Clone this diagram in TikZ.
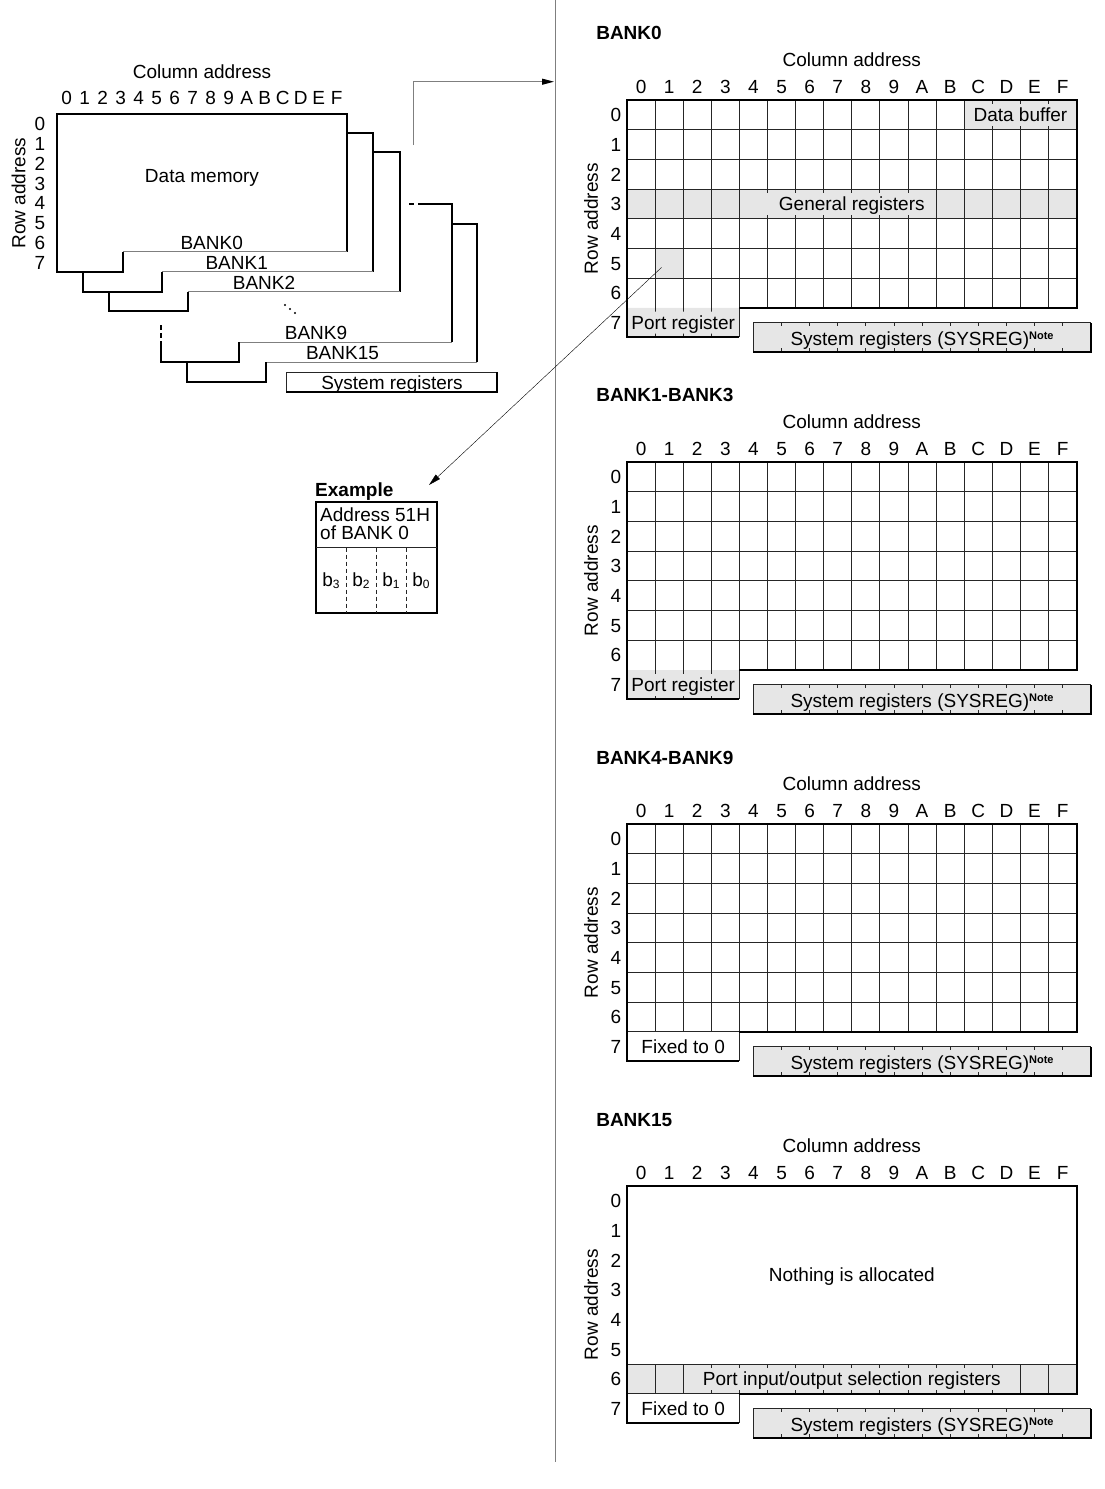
\documentclass[tikz,border=0pt]{standalone}
\usepackage{fontspec}
\setmainfont{Liberation Sans}
\usetikzlibrary{arrows.meta}
\definecolor{cellgray}{HTML}{E6E6E6}
\definecolor{linegray}{HTML}{7F7F7F}
\newcommand\fsz{\fontsize{19}{21}\selectfont}
\newcommand\notemark{\raisebox{6pt}{\fontsize{11}{12}\selectfont\bfseries Note}}

\tikzset{
  gridline/.style={line width=0.9pt,black!85},
  outline/.style={line width=2pt,black},
  stepline/.style={line width=1pt,linegray},
  bankgrid/.style={shift={(627,#1)},x=28.1pt,y=-29.65pt},
  tip/.style={-{Triangle[length=12pt,width=6pt,color=black]}}
}

% 16 x 7 cells of a bank
\newcommand\cellgrid{%
  \foreach \c in {1,...,15}
    \draw[gridline] (\c,0) -- (\c,7);
  \foreach \r in {1,...,6}
    \draw[gridline] (0,\r) -- (16,\r);
}

% title, addresses and system registers of one bank
\newcommand\bankhead[2]{%
  \node[font=\fsz\bfseries,anchor=west] (#2-title) at (-1.1,-2.26) {#1};
  \node (#2-coladdr) at (8,-1.36) {Column address};
  \foreach \c [count=\i from 0] in {0,1,2,3,4,5,6,7,8,9,A,B,C,D,E,F}
    \node (#2-col\i) at (\i+0.5,-0.45) {\c};
  \foreach \r in {0,...,7}
    \node[anchor=east] (#2-row\r) at (-0.2,\r+0.5) {\r};
  \node[rotate=90] (#2-rowaddr) at (-1.28,4) {Row address};
  % SYSREG box sits half a cell off the grid
  \fill[cellgray] (4.5,7.5) rectangle (16.5,8.5);
  \draw[gridline] (4.5,8.5) -- (4.5,7.5) -- (16.5,7.5);
  \foreach \c in {5.5,6.5,...,15.5}
    \draw[gridline] (\c,7.5) -- ++(0,0.13) (\c,8.5) -- ++(0,-0.13);
  \draw[outline] (4.5,8.5) -- (16.5,8.5) -- (16.5,7.5);
  \node (#2-sysreg) at (10.5,8.05) {System registers (SYSREG)\notemark};
}

\begin{document}
\begin{tikzpicture}[x=1pt,y=-1pt,every node/.style={font=\fsz,inner sep=0pt,text height=13.6pt,text depth=0pt}]
\useasboundingbox (0,0) rectangle (1104,1489);

% data memory, stacked banks
\node (colhdr) at (202,72) {Column address};
\foreach \c [count=\i from 0] in {0,1,2,3,4,5,6,7,8,9,A,B,C,D,E,F}
  \node (hd\i) at (66.7+18*\i,98) {\c};
\foreach \r in {0,...,7}
  \node (rw\r) at (40,124+19.75*\r) {\r};
\node[rotate=90] (rowhdr) at (18.5,193) {Row address};
\node (datamem) at (202,176) {Data memory};

\draw[outline] (123.3,251.7) -- (123.3,271.7) -- (56.7,271.7) -- (56.7,114) -- (346.7,114) -- (346.7,251.7);
\draw[stepline] (346.7,251.7) -- (123.3,251.7);
\draw[outline] (346.7,133.3) -- (373.3,133.3) -- (373.3,271.7);
\draw[stepline] (373.3,271.7) -- (161.7,271.7);
\draw[outline] (82.7,271.7) -- (82.7,291.7) -- (161.7,291.7) -- (161.7,271.7);
\draw[outline] (373.3,152.3) -- (400,152.3) -- (400,291.7);
\draw[stepline] (400,291.7) -- (188.3,291.7);
\draw[outline] (109.3,291.7) -- (109.3,311) -- (188.3,311) -- (188.3,291.7);
\draw[outline,dash pattern=on 5pt off 4pt] (409,204.3) -- (423,204.3);
\draw[outline] (423,204.3) -- (451.7,204.3) -- (451.7,342.3);
\draw[stepline] (451.7,342.3) -- (239.3,342.3);
\draw[outline,dash pattern=on 5pt off 3pt] (160.7,325) -- (160.7,341);
\draw[outline] (160.7,341) -- (160.7,362.3) -- (239.3,362.3) -- (239.3,342.3);
\draw[outline] (451.7,224) -- (477.3,224) -- (477.3,362.3);
\draw[stepline] (477.3,362.3) -- (266,362.3);
\draw[outline] (187.3,362.3) -- (187.3,381.7) -- (266,381.7) -- (266,362.3);
\draw[gridline] (286,391.7) -- (286,372.3) -- (497.3,372.3);
\draw[outline] (286,391.7) -- (497.3,391.7) -- (497.3,372.3);

\node[anchor=base] (lbank0) at (211.7,249.5) {BANK0};
\node[anchor=base] (lbank1) at (236.7,269.5) {BANK1};
\node[anchor=base] (lbank2) at (264,289) {BANK2};
\foreach \p in {(285,305),(290,309),(295,313)}
  \fill \p circle (1.1);
\node[anchor=base] (lbank9) at (316,339.5) {BANK9};
\node[anchor=base] (lbank15) at (342.5,359.5) {BANK15};
\node[anchor=base] (lsysreg) at (392,389) {System registers};

% separator and pointer to the bank maps
\draw[stepline] (555,0) -- (555,1462);
\coordinate (stackout) at (413.3,145);
\coordinate (panelin) at (554,81.7);
\draw[stepline,tip] (stackout) |- (panelin);

% example cell
\node[font=\fsz\bfseries,anchor=west] (extitle) at (315,490) {Example};
\draw[outline] (316,502.3) rectangle (436.7,612.7);
\draw[gridline] (316,547.7) -- (436.7,547.7);
\foreach \x in {346,376,406}
  \draw[gridline,dash pattern=on 4pt off 3pt] (\x,547.7) -- (\x,612.7);
\node[anchor=west] (exaddr) at (320,515) {Address 51H};
\node[anchor=west] (exbank) at (320,533) {of BANK 0};
\foreach \b [count=\i from 0] in {3,2,1,0}
  \node (exb\b) at (331+30*\i,580) {b\raisebox{-2pt}{\fontsize{12}{12}\selectfont\b}};
\coordinate (exin) at (429,485);

% BANK0
\begin{scope}[bankgrid=100.2]
\fill[cellgray] (12,0) rectangle (16,1) (0,3) rectangle (16,4) (1,5) rectangle (2,6) (0,7) rectangle (4,8);
\cellgrid
\draw[gridline] (1,7) -- (1,8) (2,7) -- (2,8) (3,7) -- (3,8) (4,7) -- (4,8);
\fill[cellgray] (12.3,0.13) rectangle (15.7,0.87) (4.8,3.13) rectangle (10.3,3.87) (0.2,7.13) rectangle (3.8,7.87);
\node (buf) at (14,0.5) {Data buffer};
\node (genreg) at (8,3.5) {General registers};
\node (port0) at (2,7.5) {Port register};
\draw[outline] (4,7) -- (16,7) -- (16,0) -- (0,0) -- (0,8) -- (4,8);
\bankhead{BANK0}{b0}
\coordinate (cell51) at (1.23,5.64);
\end{scope}
\draw[tip] (cell51) -- (exin);

% BANK1-BANK3
\begin{scope}[bankgrid=462.2]
\fill[cellgray] (0,7) rectangle (4,8);
\cellgrid
\draw[gridline] (1,7) -- (1,8) (2,7) -- (2,8) (3,7) -- (3,8) (4,7) -- (4,8);
\fill[cellgray] (0.2,7.13) rectangle (3.8,7.87);
\node (port1) at (2,7.5) {Port register};
\draw[outline] (4,7) -- (16,7) -- (16,0) -- (0,0) -- (0,8) -- (4,8);
\bankhead{BANK1-BANK3}{b1}
\end{scope}

% BANK4-BANK9
\begin{scope}[bankgrid=824.2]
\cellgrid
\draw[gridline] (0,7) -- (4,7) -- (4,8);
\node (fix4) at (2,7.5) {Fixed to 0};
\draw[outline] (4,7) -- (16,7) -- (16,0) -- (0,0) -- (0,8) -- (4,8);
\bankhead{BANK4-BANK9}{b4}
\end{scope}

% BANK15
\begin{scope}[bankgrid=1186.2]
\fill[cellgray] (0,6) rectangle (16,7);
\draw[gridline] (0,6) -- (16,6) (0,7) -- (4,7) -- (4,8);
\foreach \c in {1,...,15}
  \draw[gridline] (\c,6) -- (\c,7);
\fill[cellgray] (2.4,6.13) rectangle (13.6,6.87);
\node (none) at (8,3) {Nothing is allocated};
\node (pios) at (8,6.5) {Port input/output selection registers};
\node (fix15) at (2,7.5) {Fixed to 0};
\draw[outline] (4,7) -- (16,7) -- (16,0) -- (0,0) -- (0,8) -- (4,8);
\bankhead{BANK15}{b15}
\end{scope}
\end{tikzpicture}
\end{document}
